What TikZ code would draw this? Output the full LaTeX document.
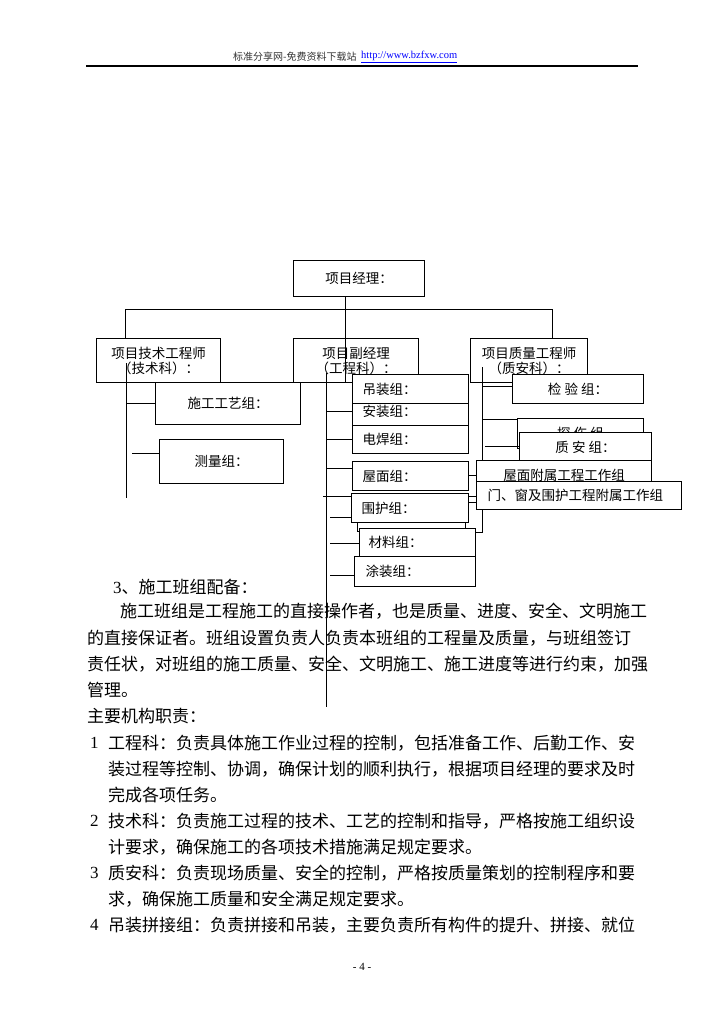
\documentclass[tikz,border=0pt]{standalone}
\usepackage{fontspec}
\setmainfont{Liberation Serif}
\newfontfamily\cjk{Noto Sans CJK SC}
\usetikzlibrary{calc}
\begin{document}
\begin{tikzpicture}[x=1pt,y=-1pt,
  box/.style={draw, fill=white, line width=1pt, inner sep=0pt, anchor=north west,
    font=\cjk\fontsize{13.5}{15}\selectfont, align=center},
  lbox/.style={box, align=left},
  ln/.style={line width=1pt},
  body/.style={anchor=west, inner sep=0pt, font=\cjk\fontsize{17}{17}\selectfont},
  num/.style={anchor=west, inner sep=0pt, font=\fontsize{17}{17}\selectfont}]
\path[use as bounding box, fill=white] (0,0) rectangle (724,1024);

% header
\node[anchor=west, inner sep=0pt, font=\cjk\fontsize{10}{12}\selectfont, text=black!80] (hd) at (233,57) {标准分享网-免费资料下载站};
\node[anchor=west, inner sep=0pt, font=\fontsize{10.5}{12}\selectfont, text=blue] (url) at (361,57) {\underline{http://www.bzfxw.com}};
\coordinate (hl1) at (86,66);
\coordinate (hl2) at (638,66);
\draw[line width=1.3pt] (hl1) -- (hl2);

% top level boxes
\node[box, minimum width=131pt, minimum height=36pt] (PM) at (293,260) {项目经理：};
\node[box, minimum width=124pt, minimum height=44pt] (TE) at (96,338) {项目技术工程师\\（技术科）：};
\node[box, minimum width=125pt, minimum height=44pt] (VM) at (293,338) {项目副经理\\（工程科）：};
\node[box, minimum width=117pt, minimum height=44pt] (QE) at (470,338) {项目质量工程师\\（质安科）：};

\coordinate (busL) at (125,309);
\coordinate (busM) at (345,309);
\coordinate (busR) at (552,309);
\draw[ln] (TE.north -| busL) -- (busL) -- (busR) -- (QE.north -| busR);
\draw[ln] (PM.south -| busM) -- (VM.south -| busM);

% columns
\coordinate (tc) at (126,363);
\coordinate (tcb) at (126,498);
\draw[ln] (tc) -- (tcb);
\coordinate (ec) at (326,373);
\coordinate (ecb) at (326,707);
\draw[ln] (ec) -- (ecb);
\coordinate (qc) at (482,367);
\coordinate (hk) at (475,532);
\draw[ln] (qc) -- (qc |- hk) -- (hk);

% technical groups
\node[box, minimum width=145pt, minimum height=42pt] (GY) at (155,382) {施工工艺组：};
\node[box, minimum width=124pt, minimum height=44pt] (CL) at (159,439) {测量组：};
\draw[ln] (GY.west -| tc) -- (GY.west);
\coordinate (clf) at (132,453);
\draw[ln] (clf) -- (clf -| CL.west);

% engineering groups
\node[lbox, text width=96pt, inner xsep=10pt, minimum height=29pt] (AZ) at (352,396) {安装组：};
\node[lbox, text width=96pt, inner xsep=10pt, minimum height=29pt] (DZ) at (352,374) {吊装组：};
\node[lbox, text width=96pt, inner xsep=10pt, minimum height=28pt] (DH) at (352,425) {电焊组：};
\node[lbox, text width=96pt, inner xsep=10pt, minimum height=29pt] (WM) at (352,461) {屋面组：};
\node[box, minimum width=108pt, minimum height=31pt] (RB) at (357,500) {};
\node[lbox, text width=97pt, inner xsep=10pt, minimum height=29pt] (WH) at (351,493) {围护组：};
\node[lbox, text width=98pt, inner xsep=9pt, minimum height=28pt] (CLZ) at (359,528) {材料组：};
\node[lbox, text width=99pt, inner xsep=11pt, minimum height=30pt] (TZ) at (354,556) {涂装组：};

\draw[ln] (AZ.west -| ec) -- (AZ.west);
\draw[ln] (DH.west -| ec) -- (DH.west);
\coordinate (wmj) at (326,468);
\draw[ln] (wmj) -- (wmj -| WM.west);
\coordinate (whj) at (323,496);
\draw[ln] (whj) -- (whj -| WH.west);
\coordinate (w2j) at (330,517);
\draw[ln] (w2j) -- (w2j -| WH.west);
\coordinate (clj) at (330,543);
\draw[ln] (clj) -- (clj -| CLZ.west);
\coordinate (tzj) at (330,575);
\draw[ln] (tzj) -- (tzj -| TZ.west);

% quality groups
\node[box, minimum width=131pt, minimum height=29pt] (JY) at (512,374) {检 验 组：};
\node[box, minimum width=126pt, minimum height=30pt] (TS) at (517,418) {探 伤 组};
\node[box, minimum width=132pt, minimum height=29pt] (ZA) at (519,432) {质 安 组：};
\node[box, minimum width=175pt, minimum height=30pt] (WF) at (476,460) {屋面附属工程工作组};
\node[lbox, text width=183pt, inner xsep=11pt, minimum height=28pt] (MC) at (476,481) {门、窗及围护工程附属工作组};

\coordinate (jyj) at (482,386);
\draw[ln] (jyj) -- (jyj -| JY.west);
\coordinate (tsj) at (482,419);
\draw[ln] (tsj) -- (tsj -| TS.west);
\coordinate (zaj) at (485,446);
\draw[ln] (zaj) -- (zaj -| ZA.west);
\draw[ln] (WM.east |- WF.west) -- (WF.west);
\coordinate (m1) at (468,496);
\coordinate (m2) at (468,502);
\draw[ln] (m1) -- (m1 -| MC.west);
\draw[ln] (m2) -- (m2 -| MC.west);

% body text
\node[body] (p0) at (113,587) {{\rmfamily 3}、施工班组配备：};
\node[body] (p1) at (120,611) {施工班组是工程施工的直接操作者，也是质量、进度、安全、文明施工};
\node[body] (p2) at (87,638) {的直接保证者。班组设置负责人负责本班组的工程量及质量，与班组签订};
\node[body] (p3) at (87,664) {责任状，对班组的施工质量、安全、文明施工、施工进度等进行约束，加强};
\node[body] (p4) at (87,690) {管理。};
\node[body] (p5) at (87,716) {主要机构职责：};
\node[num] (n1) at (90,743) {1};
\node[body] (l1a) at (108,743) {工程科：负责具体施工作业过程的控制，包括准备工作、后勤工作、安};
\node[body] (l1b) at (108,769) {装过程等控制、协调，确保计划的顺利执行，根据项目经理的要求及时};
\node[body] (l1c) at (108,795) {完成各项任务。};
\node[num] (n2) at (90,821) {2};
\node[body] (l2a) at (108,821) {技术科：负责施工过程的技术、工艺的控制和指导，严格按施工组织设};
\node[body] (l2b) at (108,847) {计要求，确保施工的各项技术措施满足规定要求。};
\node[num] (n3) at (90,873) {3};
\node[body] (l3a) at (108,873) {质安科：负责现场质量、安全的控制，严格按质量策划的控制程序和要};
\node[body] (l3b) at (108,899) {求，确保施工质量和安全满足规定要求。};
\node[num] (n4) at (90,925) {4};
\node[body] (l4a) at (108,925) {吊装拼接组：负责拼接和吊装，主要负责所有构件的提升、拼接、就位};

\node[inner sep=0pt, font=\fontsize{11}{12}\selectfont] (pg) at (362,967) {- 4 -};
\end{tikzpicture}
\end{document}
